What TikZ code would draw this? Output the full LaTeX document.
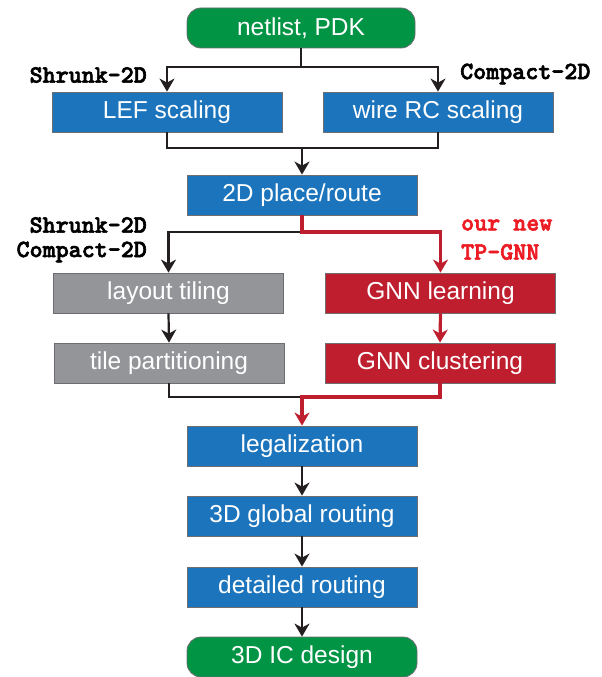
\documentclass[tikz,border=0pt]{standalone}
\usepackage{fontspec}
\setmainfont{Liberation Sans}
\newfontfamily\monob[FakeBold=2.5]{lmmonolt10-bold.otf}
\usetikzlibrary{arrows.meta}
\definecolor{cblue}{HTML}{1C75BC}
\definecolor{cred}{HTML}{BE1E2D}
\definecolor{cgray}{HTML}{939598}
\definecolor{cgreen}{HTML}{009444}
\definecolor{cborder}{HTML}{6D6E71}
\definecolor{clabred}{HTML}{ED1C24}
\definecolor{cline}{HTML}{231F20}
\tikzset{
  box/.style={draw=cborder, line width=0.8pt, minimum height=40pt, minimum width=230pt,
    inner sep=0pt, text=white, font=\fontsize{24.5}{28}\selectfont},
  bluebox/.style={box, fill=cblue},
  redbox/.style={box, fill=cred},
  graybox/.style={box, fill=cgray},
  termbox/.style={box, fill=cgreen, rounded corners=14pt, minimum width=228pt},
  lab/.style={inner sep=0pt, font=\monob\fontsize{24.8}{26}\selectfont},
  blk/.style={draw=cline, line width=2.2pt},
  rd/.style={draw=cred, line width=3.2pt},
  arr/.style={-{Stealth[length=13pt,width=15pt,inset=4pt]}},
}
\begin{document}
\begin{tikzpicture}[x=1pt,y=-1pt]
\useasboundingbox (0,0) rectangle (602,677);
% nodes
\node[termbox] (top) at (301,28) {netlist, PDK};
\node[bluebox] (lef) at (167,112) {LEF scaling};
\node[bluebox] (wire) at (438,112) {wire RC scaling};
\node[bluebox] (pr) at (302,195) {2D place/route};
\node[graybox] (tiling) at (168.5,293) {layout tiling};
\node[redbox] (gnnl) at (440.5,293) {GNN learning};
\node[graybox] (part) at (169,363) {tile partitioning};
\node[redbox] (gnnc) at (440,363) {GNN clustering};
\node[bluebox] (legal) at (302,446) {legalization};
\node[bluebox] (glob) at (302,516) {3D global routing};
\node[bluebox] (det) at (302,587) {detailed routing};
\node[termbox, minimum width=230pt] (ic) at (302,657) {3D IC design};
% labels
\node[lab, anchor=east] (l1) at (147,75) {Shrunk-2D};
\node[lab, anchor=west] (l2) at (460,74) {Compact-2D};
\node[lab, anchor=east] (l3) at (147,225) {Shrunk-2D};
\node[lab, anchor=east] (l4) at (147,252) {Compact-2D};
\node[lab, anchor=west, text=clabred] (l5) at (461,225) {our new};
\node[lab, anchor=west, text=clabred] (l6) at (461,252) {TP-GNN};
% branch coordinates
\coordinate (b1) at (0,67);
\coordinate (m1) at (0,148);
\coordinate (b2) at (0,232);
\coordinate (m2) at (0,397);
% connectors
\draw[blk] (top.south) -- (top.south|-b1);
\draw[blk, arr] (top.south|-b1) -| (lef.north);
\draw[blk, arr] (top.south|-b1) -| (wire.north);
\draw[blk] (lef.south) -- (lef.south|-m1) -| (wire.south);
\draw[blk, arr] (pr.north|-m1) -- (pr.north);
\draw[blk, arr] (pr.south|-b2) -| (tiling.north);
\draw[rd, arr] (pr.south) -- (pr.south|-b2) -| (gnnl.north);
\draw[blk, arr] (tiling.south) -- (part.north);
\draw[rd, arr] (gnnl.south) -- (gnnc.north);
\draw[blk] (part.south) |- (legal.north|-m2);
\draw[rd, arr] (gnnc.south) |- (legal.north|-m2) -- (legal.north);
\draw[blk, arr] (legal.south) -- (glob.north);
\draw[blk, arr] (glob.south) -- (det.north);
\draw[blk, arr] (det.south) -- (ic.north);
\end{tikzpicture}
\end{document}
